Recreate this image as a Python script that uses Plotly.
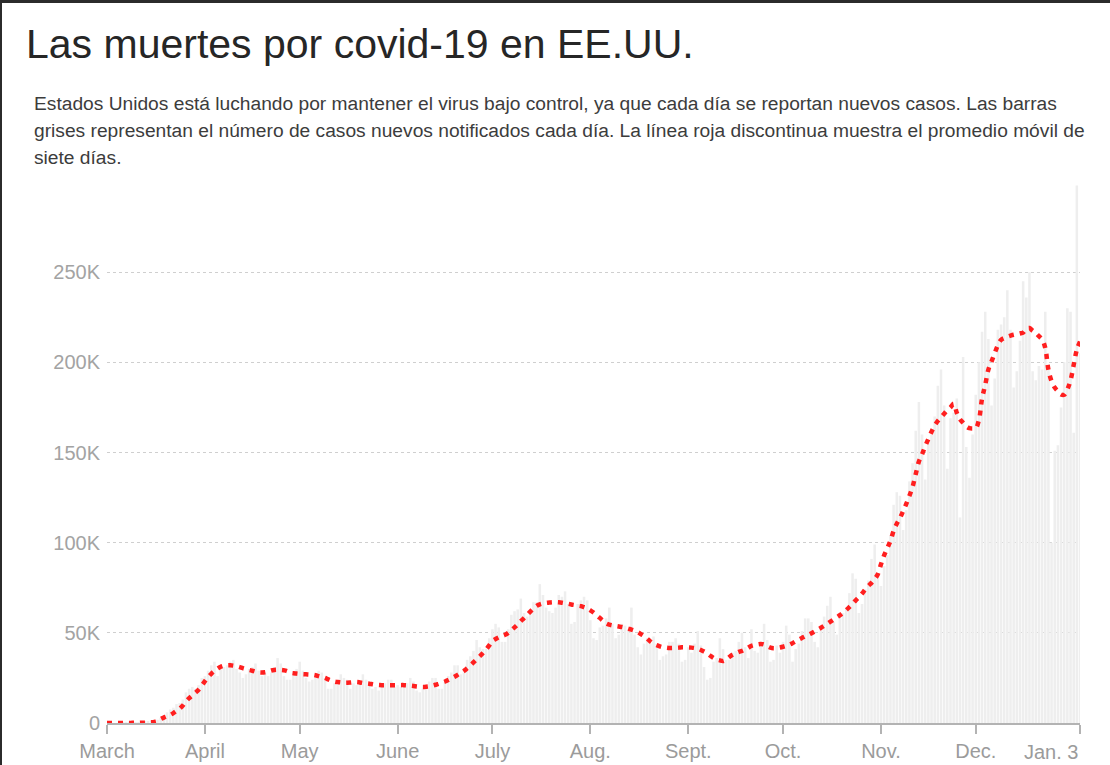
import plotly.graph_objects as go
import pandas as pd

# ---- daily new cases (thousands) ----
cases_mar = [0.0, 0.0, 0.0, 0.0, 0.1, 0.1, 0.1, 0.1, 0.2, 0.3, 0.4, 0.5, 0.6, 0.8, 1.0, 1.3, 1.8,
             2.9, 4.5, 5.9, 7.5, 8.5, 10.5, 11, 13, 17, 19, 20, 19, 21, 25]
cases_apr = [26, 29, 32, 34, 26, 30, 31, 32, 34, 35, 30, 28, 25, 27, 30, 31, 33, 29, 26, 28,
             26, 28, 31, 36, 33, 26, 24, 24, 27, 30]
cases_may = [34, 29, 25, 23, 24, 25, 29, 28, 25, 19, 19, 22, 21, 27, 25, 24, 19, 22, 21, 22,
             27, 24, 22, 19, 20, 18, 20, 22, 24, 24, 20]
cases_jun = [21, 20, 20, 22, 25, 23, 18, 17, 19, 21, 23, 25, 25, 19, 19, 23, 26, 28, 32, 32,
             27, 28, 35, 37, 40, 46, 42, 41, 41, 47]
cases_jul = [52, 55, 53, 45, 45, 52, 60, 62, 63, 69, 61, 59, 61, 67, 67, 77, 71, 64, 62, 61,
             64, 71, 70, 73, 66, 55, 56, 66, 68, 70, 68]
cases_aug = [57, 47, 46, 53, 54, 58, 64, 55, 47, 49, 55, 54, 52, 64, 49, 42, 38, 44, 47, 44,
             48, 44, 35, 37, 38, 45, 45, 47, 44, 34, 35]
cases_sep = [42, 39, 44, 51, 43, 31, 24, 25, 34, 36, 47, 41, 35, 35, 39, 40, 45, 50, 42, 36,
             52, 40, 39, 45, 55, 46, 34, 35, 43, 39]
cases_oct = [45, 54, 49, 34, 41, 44, 51, 58, 58, 56, 45, 42, 52, 59, 65, 70, 56, 49, 59, 61,
             64, 72, 83, 80, 61, 66, 74, 79, 91, 99, 81]
cases_nov = [76, 87, 93, 104, 121, 128, 126, 107, 118, 134, 144, 162, 178, 160, 135, 157, 160, 170, 187, 196,
             176, 141, 169, 172, 180, 114, 203, 153, 136, 160]
cases_dec = [182, 200, 217, 228, 213, 176, 191, 218, 221, 225, 240, 218, 186, 195, 212, 245, 236, 250, 195, 190,
             198, 196, 228, 198, 100, 151, 154, 175, 200, 230, 228]
cases_jan = [161, 298, 205]

# ---- seven-day moving average (thousands) ----
avg_mar = [0, 0, 0, 0, 0, 0, 0, 0, 0.1, 0.1, 0.1, 0.2, 0.2, 0.3, 0.4, 0.6, 1.0, 2.2, 3.0, 3.7,
           4.5, 5.5, 6.7, 8.0, 9.7, 12.0, 13.8, 15.3, 16.8, 18.5, 20.8]
avg_apr = [23.2, 25.5, 27.3, 28.8, 30.2, 31.2, 31.8, 32.0, 32.0, 31.8, 31.5, 31.0, 30.4, 29.9, 29.4,
           29.0, 28.5, 28.1, 28.0, 28.1, 28.5, 29.1, 29.4, 29.5, 29.4, 29.2, 28.8, 27.9, 27.6, 27.4]
avg_may = [27.2, 27.1, 27.0, 26.9, 26.8, 26.5, 26.0, 25.5, 25.0, 24.2, 23.5, 23.0, 22.7, 22.5, 22.3,
           22.3, 22.4, 22.6, 22.7, 22.5, 22.2, 22.0, 21.8, 21.5, 21.2, 21.1, 21.0, 21.0, 21.0, 21.0, 21.0]
avg_jun = [21.0, 21.0, 21.0, 20.9, 20.7, 20.5, 20.3, 20.1, 20.0, 20.1, 20.3, 20.7, 21.2, 21.8, 22.4,
           23.0, 23.8, 24.7, 25.6, 26.7, 27.8, 28.9, 30.3, 31.8, 33.6, 35.3, 37.0, 38.8, 40.8, 43.0]
avg_jul = [45.5, 46.6, 47.5, 48.2, 48.9, 50.0, 51.5, 53.0, 54.7, 56.5, 58.2, 60.0, 61.8, 63.5, 65.0,
           65.8, 66.3, 66.6, 66.8, 67.0, 67.0, 66.9, 66.7, 66.4, 66.1, 65.7, 65.4, 65.1, 64.8, 64.2, 63.5]
avg_aug = [62.5, 61.3, 59.8, 58.3, 56.7, 55.2, 54.5, 54.1, 53.8, 53.5, 53.2, 52.8, 52.3, 51.8, 51.2,
           50.4, 49.3, 48.2, 46.8, 45.2, 44.0, 43.2, 42.5, 42.0, 41.8, 41.6, 41.6, 41.7, 41.8, 42.0, 42.0]
avg_sep = [41.9, 41.8, 41.6, 41.2, 40.5, 39.6, 38.6, 37.3, 36.1, 35.2, 34.7, 34.4, 35.2, 36.6, 37.8,
           38.6, 39.4, 40.0, 40.8, 41.8, 42.8, 43.3, 43.6, 43.8, 43.5, 42.6, 41.8, 41.5, 41.6, 41.9]
avg_oct = [42.3, 42.8, 43.4, 44.3, 45.3, 46.3, 47.2, 48.1, 48.9, 49.8, 50.8, 51.8, 52.8, 53.9, 55.0,
           56.2, 57.4, 58.6, 59.8, 61.2, 62.6, 64.3, 66.1, 68.0, 69.8, 71.8, 74.0, 76.0, 77.7, 79.8, 82.5]
avg_nov = [88.0, 93.0, 97.0, 101.0, 106.5, 110.5, 113.6, 117.5, 121.5, 126.0, 131.0, 138.0, 145.0,
           149.0, 153.5, 157.5, 161.5, 165.0, 167.5, 169.5, 171.5, 173.5, 175.0, 177.0, 172.0, 168.5,
           166.5, 164.5, 163.5, 163.3]
avg_dec = [163.5, 168.0, 180.0, 187.5, 196.0, 200.5, 205.0, 209.5, 212.5, 213.5, 214.2, 214.8, 215.3,
           215.6, 216.0, 216.5, 218.5, 219.0, 217.5, 216.3, 214.5, 212.8, 208.0, 196.0, 189.5, 186.0,
           184.0, 182.2, 182.0, 185.0, 190.0]
avg_jan = [198.5, 207.0, 211.5]

month_ticks = ["2020-03-01", "2020-04-01", "2020-05-01", "2020-06-01", "2020-07-01", "2020-08-01",
               "2020-09-01", "2020-10-01", "2020-11-01", "2020-12-01", "2021-01-03"]
month_labels = ["March", "April", "May", "June", "July", "Aug.", "Sept.", "Oct.", "Nov.", "Dec.", ""]
last_label = "Jan. 3"
y_ticks = [0, 50, 100, 150, 200, 250]
y_labels = ["0", "50K", "100K", "150K", "200K", "250K"]

title = "Las muertes por covid-19 en EE.UU."
sub_lines = [
    "Estados Unidos está luchando por mantener el virus bajo control, ya que cada día se reportan nuevos casos. Las barras",
    "grises representan el número de casos nuevos notificados cada día. La línea roja discontinua muestra el promedio móvil de",
    "siete días.",
]

cases = (cases_mar + cases_apr + cases_may + cases_jun + cases_jul + cases_aug + cases_sep
         + cases_oct + cases_nov + cases_dec + cases_jan)
avg = (avg_mar + avg_apr + avg_may + avg_jun + avg_jul + avg_aug + avg_sep
       + avg_oct + avg_nov + avg_dec + avg_jan)
dates = pd.date_range("2020-03-01", periods=len(cases), freq="D")

FONT = "Liberation Sans, Arial, Helvetica, sans-serif"

fig = go.Figure()
fig.add_trace(go.Bar(x=dates, y=cases, marker=dict(color="#eeeeee", line=dict(width=0)),
                     hoverinfo="skip", showlegend=False))
fig.add_trace(go.Scatter(x=dates, y=avg, mode="lines",
                         line=dict(color="#ff1f1f", width=4.5, dash="5px,6px", shape="spline"),
                         hoverinfo="skip", showlegend=False))

# plot-area geometry helpers (pixels -> paper)
L, R, T, B = 107, 30, 182, 42
W, H = 1110, 765
pw, ph = W - L - R, H - T - B
def px(x):
    return (x - L) / pw
def py(y):
    return (H - B - y) / ph

annotations = [
    dict(text=title, x=px(24), y=py(44), xref="paper", yref="paper", xanchor="left", yanchor="middle",
         showarrow=False, font=dict(family=FONT, size=41, color="#262626")),
]
for i, line in enumerate(sub_lines):
    annotations.append(dict(text=line, x=px(32), y=py(104 + 26.5 * i), xref="paper", yref="paper",
                            xanchor="left", yanchor="middle", showarrow=False,
                            font=dict(family=FONT, size=19.2, color="#3c3c3c")))
annotations.append(dict(text=last_label, x=month_ticks[-1], xref="x", y=py(752), yref="paper",
                        xanchor="right", yanchor="middle", showarrow=False,
                        font=dict(family=FONT, size=20, color="#9b9b9b")))

shapes = [
    dict(type="line", xref="paper", yref="paper", x0=px(0), x1=px(W), y0=py(1.5), y1=py(1.5),
         line=dict(color="#2b2b2b", width=3)),
    dict(type="line", xref="paper", yref="paper", x0=px(1), x1=px(1), y0=py(0), y1=py(H),
         line=dict(color="#2b2b2b", width=2)),
]

fig.update_layout(
    width=W, height=H,
    margin=dict(l=L, r=R, t=T, b=B, pad=0, autoexpand=False),
    paper_bgcolor="white", plot_bgcolor="white",
    bargap=0.2,
    annotations=annotations,
    shapes=shapes,
    font=dict(family=FONT),
    xaxis=dict(type="date", range=["2020-03-01", "2021-01-03"], automargin=False,
               tickvals=month_ticks, ticktext=month_labels,
               showgrid=False, zeroline=False,
               showline=True, linecolor="#b3b3b3", linewidth=2,
               ticks="outside", ticklen=9, tickwidth=1.5, tickcolor="#b3b3b3",
               tickfont=dict(family=FONT, size=20, color="#9b9b9b")),
    yaxis=dict(range=[0, 300], tickvals=y_ticks, ticktext=y_labels, automargin=False,
               showgrid=True, gridcolor="#cfcfcf", griddash="dot", gridwidth=1,
               zeroline=False, showline=False,
               ticks="outside", ticklen=2, tickcolor="rgba(0,0,0,0)",
               tickfont=dict(family=FONT, size=20, color="#a3a3a3")),
)

fig.write_html("out.html")
